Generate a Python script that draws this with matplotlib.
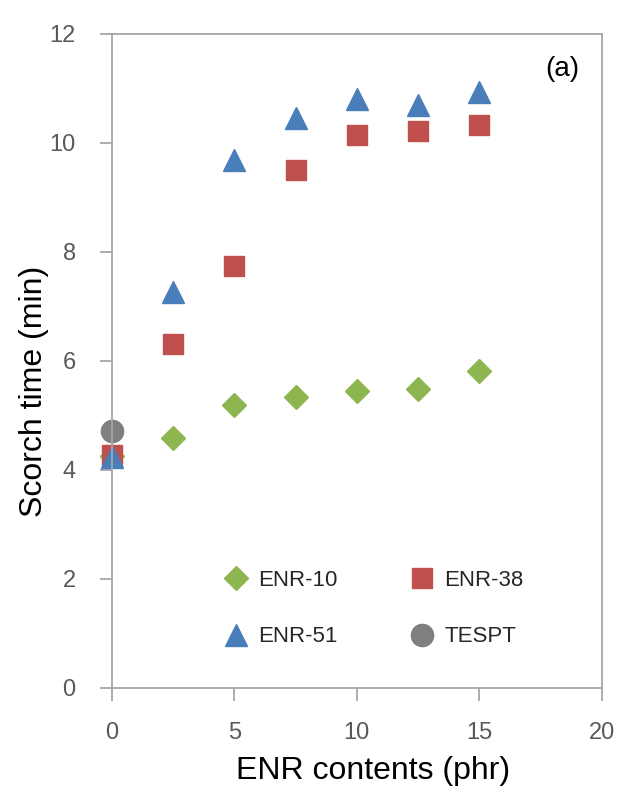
import matplotlib.pyplot as plt

plt.rcParams['font.family'] = ['Liberation Sans', 'DejaVu Sans']

enr = [0, 2.5, 5, 7.5, 10, 12.5, 15]
enr10 = [4.25, 4.59, 5.19, 5.34, 5.45, 5.49, 5.82]
enr38 = [4.28, 6.31, 7.74, 9.50, 10.15, 10.22, 10.33]
enr51 = [4.24, 7.27, 9.69, 10.46, 10.81, 10.70, 10.94]
tespt_x = [0]
tespt = [4.72]

fig = plt.figure(figsize=(6.21, 7.86), dpi=100)
ax = fig.add_axes([0.180, 0.125, 0.789, 0.832])

h10, = ax.plot(enr, enr10, linestyle="none", marker="D", ms=12, color="#8DB650", label="ENR-10", clip_on=False)
h38, = ax.plot(enr, enr38, linestyle="none", marker="s", ms=14, color="#C0504D", label="ENR-38", clip_on=False)
h51, = ax.plot(enr, enr51, linestyle="none", marker="^", ms=16, color="#4A7EBB", label="ENR-51", clip_on=False)
ht, = ax.plot(tespt_x, tespt, linestyle="none", marker="o", ms=16, color="#7F7F7F", label="TESPT", clip_on=False)

ax.set_xlim(0, 20)
ax.set_ylim(0, 12)
ax.set_xticks([0, 5, 10, 15, 20])
ax.set_yticks([0, 2, 4, 6, 8, 10, 12])
for s in ax.spines.values():
    s.set_color("#A6A6A6")
    s.set_linewidth(1.3)
ax.tick_params(direction="out", length=9, width=1.3, color="#A6A6A6",
               labelsize=17, labelcolor="#595959")
ax.tick_params(axis="y", pad=17)
ax.tick_params(axis="x", pad=16)

ax.set_xlabel("ENR contents (phr)", fontsize=23)
ax.set_ylabel("Scorch time (min)", fontsize=23)
ax.xaxis.set_label_coords(0.534, -0.104)
ax.yaxis.set_label_coords(-0.128, 0.453)
ax.text(0.920, 0.946, "(a)", transform=ax.transAxes, ha="center", va="center", fontsize=20)

# row-major order like the original legend
ax.legend([h10, h51, h38, ht], ["ENR-10", "ENR-51", "ENR-38", "TESPT"],
          loc="center", bbox_to_anchor=(0.533, 0.121), ncol=2, frameon=False,
          fontsize=16, columnspacing=3.2, handletextpad=0.4, labelspacing=1.6,
          markerscale=1.0, handlelength=1.2, labelcolor="#262626")

fig.savefig("out.png", dpi=100)
